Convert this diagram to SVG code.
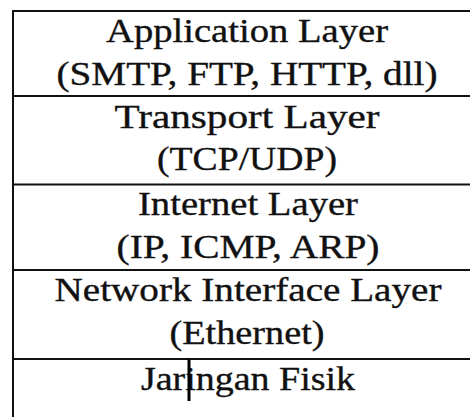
<svg xmlns="http://www.w3.org/2000/svg" width="470" height="417" viewBox="0 0 470 417">
  <style>
    .rule { stroke: #111; stroke-width: 2; fill: none; }
    .lbl { font-family: "Liberation Serif", "Times New Roman", serif; font-size: 33px; fill: #111; stroke: #111; stroke-width: 0.35; text-anchor: middle; }
  </style>
  <rect width="470" height="417" fill="#fff"/>

  <!-- table frame: top edge and left edge (runs off the right and bottom) -->
  <g id="frame">
    <path class="rule" d="M13 417 V11 H472"/>
  </g>

  <!-- row separators -->
  <g id="separators">
    <path class="rule" d="M13 96 H472 M13 184.5 H472 M13 270 H472 M13 359 H472"/>
  </g>

  <g id="application-layer">
    <text class="lbl" x="247" y="42" textLength="282" lengthAdjust="spacingAndGlyphs">Application Layer</text>
    <text class="lbl" x="247" y="85" textLength="381" lengthAdjust="spacingAndGlyphs">(SMTP, FTP, HTTP, dll)</text>
  </g>

  <g id="transport-layer">
    <text class="lbl" x="247" y="128" textLength="265" lengthAdjust="spacingAndGlyphs">Transport Layer</text>
    <text class="lbl" x="247" y="170" textLength="180" lengthAdjust="spacingAndGlyphs">(TCP/UDP)</text>
  </g>

  <g id="internet-layer">
    <text class="lbl" x="248" y="215" textLength="220" lengthAdjust="spacingAndGlyphs">Internet Layer</text>
    <text class="lbl" x="248" y="258" textLength="263" lengthAdjust="spacingAndGlyphs">(IP, ICMP, ARP)</text>
  </g>

  <g id="network-interface-layer">
    <text class="lbl" x="248" y="301" textLength="387" lengthAdjust="spacingAndGlyphs">Network Interface Layer</text>
    <text class="lbl" x="247" y="344" textLength="155" lengthAdjust="spacingAndGlyphs">(Ethernet)</text>
  </g>

  <g id="physical-network">
    <text class="lbl" x="248" y="390" textLength="214" lengthAdjust="spacingAndGlyphs">Jaringan Fisik</text>
    <!-- text caret -->
    <rect x="187.5" y="359" width="3" height="42" fill="#000"/>
  </g>
</svg>
